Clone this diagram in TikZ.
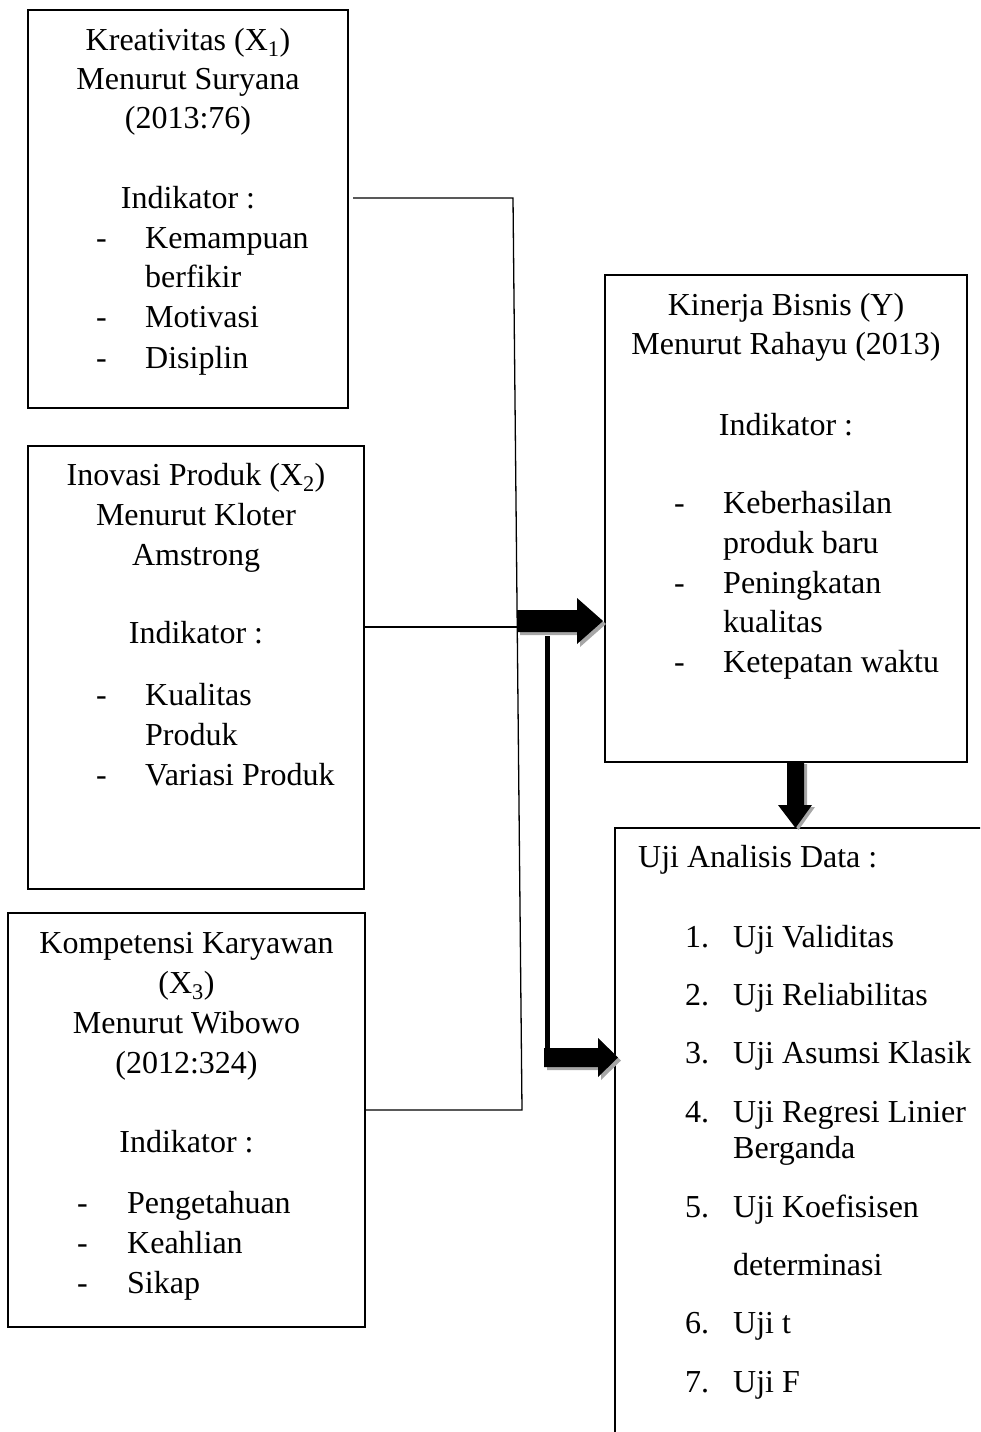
\documentclass[tikz,border=0pt]{standalone}
\usepackage{fontspec}
\setmainfont{Liberation Serif}
\usetikzlibrary{calc}
\begin{document}
\begin{tikzpicture}[x=1pt,y=-1pt,
  box/.style={draw,line width=2pt,inner sep=0pt,outer sep=0pt},
  ctr/.style={anchor=base,inner sep=0pt,font=\fontsize{32}{40}\selectfont},
  lft/.style={anchor=base west,inner sep=0pt,font=\fontsize{32}{40}\selectfont},
  conn/.style={line width=1.3pt},
  blk/.style={fill=black},
  shd/.style={fill=black!35}]
\useasboundingbox (0,0) rectangle (980,1432);
\clip (0,0) rectangle (980,1432);

% boxes
\node[box,minimum width=320pt,minimum height=398pt] (b1) at (188,209) {};
\node[box,minimum width=336pt,minimum height=443pt] (b2) at (196,667.5) {};
\node[box,minimum width=357pt,minimum height=414pt] (b3) at (186.5,1120) {};
\node[box,minimum width=362pt,minimum height=487pt] (by) at (786,518.5) {};
\node[box,minimum width=420pt,minimum height=700pt] (bu) at (825,1178) {};

% box 1 text
\node[ctr] (t11) at (188,50) {Kreativitas (X\textsubscript{1})};
\node[ctr] (t12) at (188,89) {Menurut Suryana};
\node[ctr] (t13) at (188,128) {(2013:76)};
\node[ctr] (t14) at (188,208) {Indikator :};
\node[lft] (d11) at (96,248) {-};
\node[lft] (t15) at (145,248) {Kemampuan};
\node[lft] (t16) at (145,287) {berfikir};
\node[lft] (d12) at (96,327) {-};
\node[lft] (t17) at (145,327) {Motivasi};
\node[lft] (d13) at (96,368) {-};
\node[lft] (t18) at (145,368) {Disiplin};

% box 2 text
\node[ctr] (t21) at (196,485) {Inovasi Produk (X\textsubscript{2})};
\node[ctr] (t22) at (196,525) {Menurut Kloter};
\node[ctr] (t23) at (196,565) {Amstrong};
\node[ctr] (t24) at (196,643) {Indikator :};
\node[lft] (d21) at (96,705) {-};
\node[lft] (t25) at (145,705) {Kualitas};
\node[lft] (t26) at (145,745) {Produk};
\node[lft] (d22) at (96,785) {-};
\node[lft] (t27) at (145,785) {Variasi Produk};

% box 3 text
\node[ctr] (t31) at (186.5,953) {Kompetensi Karyawan};
\node[ctr] (t32) at (186.5,993) {(X\textsubscript{3})};
\node[ctr] (t33) at (186.5,1033) {Menurut Wibowo};
\node[ctr] (t34) at (186.5,1073) {(2012:324)};
\node[ctr] (t35) at (186.5,1152) {Indikator :};
\node[lft] (d31) at (77,1213) {-};
\node[lft] (t36) at (127,1213) {Pengetahuan};
\node[lft] (d32) at (77,1253) {-};
\node[lft] (t37) at (127,1253) {Keahlian};
\node[lft] (d33) at (77,1293) {-};
\node[lft] (t38) at (127,1293) {Sikap};

% box Y text
\node[ctr] (ty1) at (786,315) {Kinerja Bisnis (Y)};
\node[ctr] (ty2) at (786,354) {Menurut Rahayu (2013)};
\node[ctr] (ty3) at (786,435) {Indikator :};
\node[lft] (dy1) at (674,513) {-};
\node[lft] (ty4) at (723,513) {Keberhasilan};
\node[lft] (ty5) at (723,553) {produk baru};
\node[lft] (dy2) at (674,593) {-};
\node[lft] (ty6) at (723,593) {Peningkatan};
\node[lft] (ty7) at (723,632) {kualitas};
\node[lft] (dy3) at (674,672) {-};
\node[lft] (ty8) at (723,672) {Ketepatan waktu};

% box Uji text
\node[lft] (tu0) at (638,867) {Uji Analisis Data :};
\node[lft] (n1) at (685,947) {1.};
\node[lft] (tu1) at (733,947) {Uji Validitas};
\node[lft] (n2) at (685,1005) {2.};
\node[lft] (tu2) at (733,1005) {Uji Reliabilitas};
\node[lft] (n3) at (685,1063) {3.};
\node[lft] (tu3) at (733,1063) {Uji Asumsi Klasik};
\node[lft] (n4) at (685,1122) {4.};
\node[lft] (tu4) at (733,1122) {Uji Regresi Linier};
\node[lft] (tu4b) at (733,1158) {Berganda};
\node[lft] (n5) at (685,1217) {5.};
\node[lft] (tu5) at (733,1217) {Uji Koefisisen};
\node[lft] (tu5b) at (733,1275) {determinasi};
\node[lft] (n6) at (685,1333) {6.};
\node[lft] (tu6) at (733,1333) {Uji t};
\node[lft] (n7) at (685,1392) {7.};
\node[lft] (tu7) at (733,1392) {Uji F};

% connectors
\coordinate (s1) at ($(b1.north east)+(5,188)$);
\coordinate (j1) at (513,198);
\coordinate (j2) at (517.2,627);
\coordinate (j3) at (522,1110);
\draw[conn] (s1) -- (j1) -- (j3) -- (b3.east |- j3);
\draw[conn] (b2.east |- j2) -- (j2);

% block arrow 1 (to Y)
\coordinate (a1) at (517,621);
\fill[shd] ($(a1)+(3,3)$) ++(0,-11) -- ++(60,0) -- ++(0,-12) -- ++(26,23) -- ++(-26,23) -- ++(0,-12) -- ++(-60,0) -- cycle;
\fill[blk] (a1) ++(0,-11) -- ++(60,0) -- ++(0,-12) -- ++(26,23) -- ++(-26,23) -- ++(0,-12) -- ++(-60,0) -- cycle;

% thick vertical line and block arrow 2 (to Uji)
\coordinate (v1) at (547,636);
\coordinate (v2) at (547,1050);
\draw[line width=5pt] (v1) -- (v2);
\coordinate (a2) at (544,1057.5);
\fill[shd] ($(a2)+(3,3)$) ++(0,-9.5) -- ++(54,0) -- ++(0,-10) -- ++(20,19.5) -- ++(-20,19.5) -- ++(0,-10) -- ++(-54,0) -- cycle;
\fill[blk] (a2) ++(0,-9.5) -- ++(54,0) -- ++(0,-10) -- ++(20,19.5) -- ++(-20,19.5) -- ++(0,-10) -- ++(-54,0) -- cycle;

% block arrow 3 (Y to Uji)
\coordinate (a3) at (795.5,762);
\fill[shd] ($(a3)+(3,2)$) ++(-8.5,0) -- ++(17,0) -- ++(0,43) -- ++(8,0) -- ++(-16.5,23) -- ++(-17.5,-23) -- ++(9,0) -- cycle;
\fill[blk] (a3) ++(-8.5,0) -- ++(17,0) -- ++(0,43) -- ++(8,0) -- ++(-16.5,23) -- ++(-17.5,-23) -- ++(9,0) -- cycle;
\end{tikzpicture}
\end{document}
